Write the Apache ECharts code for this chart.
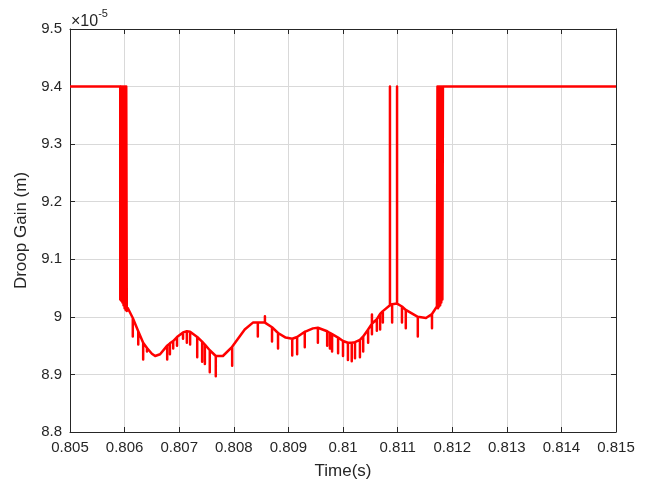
<!DOCTYPE html>
<html>
<head>
<meta charset="utf-8">
<script src="https://cdn.jsdelivr.net/npm/echarts@6/dist/echarts.min.js"></script>
<style>
html,body{margin:0;padding:0;background:#fff;}
#c{width:651px;height:485px;}
</style>
</head>
<body>
<div id="c"></div>
<script>
// ---- data (gain values in units of 1e-5) ----
const scaleExponent = -5;
const xTicks = [0.805,0.806,0.807,0.808,0.809,0.810,0.811,0.812,0.813,0.814,0.815];
const yTicks = [8.8,8.9,9.0,9.1,9.2,9.3,9.4,9.5];

const time = [
  0.805,0.80592,0.80592,0.80593,0.80594,0.80595,0.80596,0.80597,0.80598,0.80599,0.806,0.80601,0.80602,0.80603,0.80604,
  0.80606,
  0.80615,0.80615,0.80615,
  0.80625,0.80625,0.80625,
  0.80634,0.80634,0.80634,
  0.80641,0.80641,0.80641,
  0.8065,0.80656,0.80665,
  0.80678,0.80678,0.80678,
  0.80683,0.80683,0.80683,
  0.80689,0.80689,0.80689,
  0.80696,0.80696,0.80696,
  0.80707,0.80707,0.80707,
  0.80714,0.80714,0.80714,
  0.8072,0.8072,0.8072,
  0.80733,0.80733,0.80733,
  0.80742,0.80742,0.80742,
  0.80747,0.80747,0.80747,
  0.80756,0.80756,0.80756,
  0.80767,0.80767,0.80767,
  0.8078,
  0.80797,0.80797,0.80797,
  0.8082,0.80835,
  0.80844,0.80844,0.80844,
  0.80857,0.80857,0.80857,
  0.8087,0.8087,0.8087,
  0.80881,0.80881,0.80881,
  0.80895,
  0.80907,0.80907,0.80907,
  0.80916,0.80916,0.80916,
  0.8093,0.8093,0.8093,
  0.80945,
  0.80954,0.80954,0.80954,
  0.80971,0.80971,0.80971,
  0.80976,0.80976,0.80976,
  0.8098,0.8098,0.8098,
  0.80991,0.80991,0.80991,
  0.81,0.81,0.81,
  0.81009,0.81009,0.81009,
  0.81016,0.81016,0.81016,
  0.81022,0.81022,0.81022,
  0.81031,0.81031,0.81031,
  0.81037,0.81037,0.81037,
  0.81046,0.81046,0.81046,
  0.81053,0.81053,0.81053,0.81053,
  0.81062,0.81062,0.81062,
  0.81068,0.81068,0.81068,
  0.81073,0.81073,0.81073,
  0.81086,0.81086,0.81086,
  0.8109,0.8109,0.8109,
  0.81099,0.81099,0.81099,
  0.81108,0.81108,0.81108,
  0.81115,0.81115,0.81115,
  0.81137,0.81137,0.81137,
  0.81152,
  0.81163,0.81163,0.81163,
  0.81172,
  0.81173,0.81174,0.81175,0.81176,0.81177,0.81178,0.81179,0.8118,0.81181,0.81182,0.81183,
  0.815
];
const gain = [
  9.4,9.4,9.03,9.4,9.028,9.4,9.025,9.4,9.02,9.4,9.015,9.4,9.012,9.4,9.01,
  9.015,
  8.998,8.966,8.998,
  8.975,8.952,8.975,
  8.955,8.926,8.955,
  8.946,8.94,8.946,
  8.936,8.932,8.935,
  8.95,8.926,8.95,
  8.954,8.935,8.954,
  8.958,8.945,8.958,
  8.965,8.95,8.965,
  8.973,8.962,8.973,
  8.975,8.955,8.975,
  8.974,8.952,8.974,
  8.965,8.93,8.965,
  8.957,8.922,8.957,
  8.952,8.918,8.952,
  8.942,8.904,8.942,
  8.932,8.897,8.932,
  8.932,
  8.948,8.915,8.948,
  8.978,8.99,
  8.99,8.966,8.99,
  8.99,9.001,8.99,
  8.982,8.957,8.982,
  8.972,8.945,8.972,
  8.964,
  8.962,8.933,8.962,
  8.965,8.935,8.965,
  8.974,8.947,8.974,
  8.98,
  8.981,8.955,8.981,
  8.975,8.95,8.975,
  8.972,8.945,8.972,
  8.97,8.94,8.97,
  8.964,8.937,8.964,
  8.958,8.932,8.958,
  8.955,8.925,8.955,
  8.955,8.923,8.955,
  8.956,8.928,8.956,
  8.96,8.93,8.96,
  8.966,8.94,8.966,
  8.978,8.955,8.978,
  8.988,9.004,8.97,8.988,
  8.996,8.976,8.996,
  9.005,8.978,9.005,
  9.01,8.99,9.01,
  9.02,9.4,9.02,
  9.022,8.99,9.022,
  9.023,9.4,9.023,
  9.018,8.99,9.018,
  9.012,8.98,9.012,
  9.0,8.966,9.0,
  8.998,
  9.005,8.98,9.005,
  9.018,
  9.4,9.015,9.4,9.018,9.4,9.02,9.4,9.025,9.4,9.03,9.4,
  9.4
];

if (time.length !== gain.length) console.error('length mismatch', time.length, gain.length);
const seriesData = time.map((t, i) => [t, gain[i]]);

const FONT = 'Liberation Sans, Arial, Helvetica, sans-serif';
const AXIS_COLOR = '#262626';
const GRID_COLOR = '#d9d9d9';

const chart = echarts.init(document.getElementById('c'), null, {renderer: 'canvas'});

const xBase = {
  type: 'value', min: xTicks[0], max: xTicks[xTicks.length-1], interval: 0.001,
  axisLine: {lineStyle: {color: AXIS_COLOR, width: 1}},
  axisTick: {inside: true, length: 5, lineStyle: {color: AXIS_COLOR}},
};
const yBase = {
  type: 'value', min: yTicks[0], max: yTicks[yTicks.length-1], interval: 0.1,
  axisLine: {lineStyle: {color: AXIS_COLOR, width: 1}},
  axisTick: {inside: true, length: 5, lineStyle: {color: AXIS_COLOR}},
};

chart.setOption({
  animation: false,
  backgroundColor: '#fff',
  grid: {left: 70, right: 35, top: 29, bottom: 52, containLabel: false},
  xAxis: [
    Object.assign({}, xBase, {
      position: 'bottom',
      name: 'Time(s)', nameLocation: 'middle', nameGap: 31,
      nameTextStyle: {fontFamily: FONT, fontSize: 17, color: AXIS_COLOR},
      axisLabel: {fontFamily: FONT, fontSize: 15, color: AXIS_COLOR, margin: 8,
        formatter: v => String(parseFloat(v.toFixed(3)))},
      splitLine: {show: true, lineStyle: {color: GRID_COLOR, width: 1}}
    }),
    Object.assign({}, xBase, {
      position: 'top', axisLabel: {show: false}, splitLine: {show: false}
    })
  ],
  yAxis: [
    Object.assign({}, yBase, {
      position: 'left',
      name: 'Droop Gain (m)', nameLocation: 'middle', nameGap: 39, nameRotate: 90,
      nameTextStyle: {fontFamily: FONT, fontSize: 17, color: AXIS_COLOR},
      axisLabel: {fontFamily: FONT, fontSize: 15, color: AXIS_COLOR, margin: 8,
        formatter: v => String(parseFloat(v.toFixed(1)))},
      splitLine: {show: true, lineStyle: {color: GRID_COLOR, width: 1}}
    }),
    Object.assign({}, yBase, {
      position: 'right', axisLabel: {show: false}, splitLine: {show: false}
    })
  ],
  graphic: [{
    type: 'text', left: 71, top: 8,
    style: {
      text: '{a|×10}{b|' + scaleExponent + '}',
      rich: {
        a: {fontFamily: FONT, fontSize: 16, fill: AXIS_COLOR, verticalAlign: 'bottom', padding: [6,0,0,0]},
        b: {fontFamily: FONT, fontSize: 11, fill: AXIS_COLOR, verticalAlign: 'top'}
      }
    }
  }],
  series: [{
    type: 'line', xAxisIndex: 0, yAxisIndex: 0,
    data: seriesData, showSymbol: false, symbol: 'none',
    lineStyle: {color: '#ff0000', width: 2.5, join: 'round'},
    itemStyle: {color: '#ff0000'},
    clip: true
  }]
});
</script>
</body>
</html>
